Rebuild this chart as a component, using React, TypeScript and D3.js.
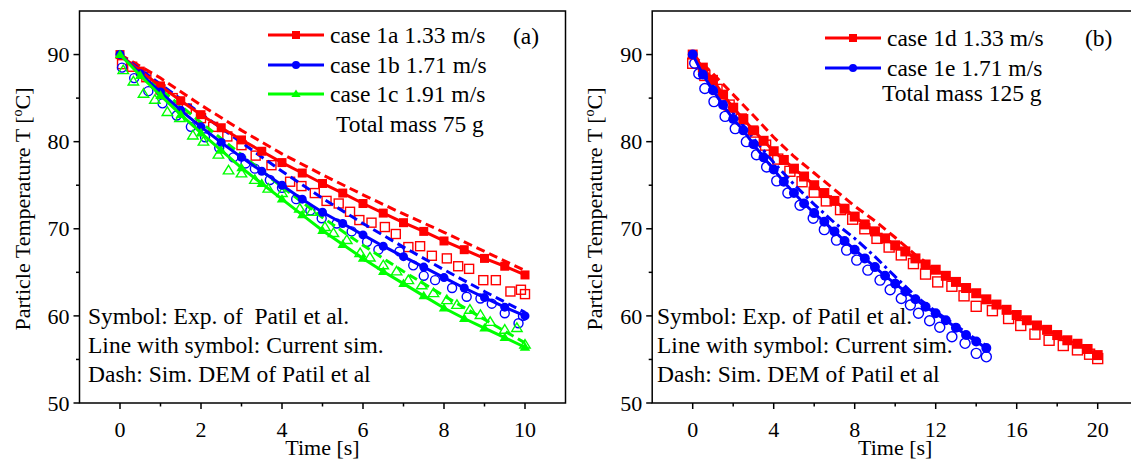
import React from 'react';
import * as d3 from 'd3';

// ---------------- DATA ----------------
// Panel (a): current simulation (line with symbol), t step 0.5 s
const simTimeA = [0, 0.5, 1, 1.5, 2, 2.5, 3, 3.5, 4, 4.5, 5, 5.5, 6, 6.5, 7, 7.5, 8, 8.5, 9, 9.5, 10];
const sim1a = [90, 88.1, 86.4, 84.7, 83.1, 81.6, 80.2, 78.9, 77.6, 76.4, 75.2, 74.1, 72.9, 71.8, 70.7, 69.7, 68.6, 67.6, 66.6, 65.7, 64.7];
const sim1b = [90, 87.8, 85.7, 83.6, 81.7, 79.9, 78.2, 76.6, 75.0, 73.4, 71.9, 70.6, 69.3, 68.0, 66.8, 65.6, 64.4, 63.2, 62.1, 61.0, 60.0];
const sim1c = [90, 87.6, 85.3, 83.1, 81.0, 79.0, 77.0, 75.2, 73.4, 71.6, 69.8, 68.2, 66.6, 65.1, 63.7, 62.3, 60.9, 59.7, 58.6, 57.5, 56.4];
// Panel (a): DEM of Patil et al. (dash)
const demTimeA = [0, 1, 2, 3, 4, 5, 6, 7, 8, 9, 10];
const dem1a = [90, 87.3, 84.2, 81.3, 78.6, 76.2, 73.9, 71.7, 69.6, 67.4, 65.2];
const dem1b = [90, 86.6, 83.2, 79.9, 76.6, 73.5, 70.6, 67.9, 65.3, 62.8, 60.4];
const dem1c = [90, 86.0, 82.2, 78.5, 74.8, 71.3, 68.1, 65.1, 62.3, 59.6, 56.9];
// Panel (a): experiments of Patil et al. (open symbols) [t, T]
const exp1a: [number, number][] = [[0.05, 88.9], [0.3, 88.6], [0.65, 87.4], [1.0, 86.0], [1.3, 85.0], [1.65, 83.8], [2.0, 82.7], [2.3, 81.7], [2.65, 80.6], [3.0, 79.6], [3.35, 78.4], [3.74, 77.3], [4.2, 75.4], [4.48, 74.9], [4.81, 74.1], [5.1, 73.2], [5.4, 72.9], [5.68, 71.95], [5.91, 71.0], [6.21, 70.7], [6.54, 70.2], [6.81, 69.4], [7.12, 67.9], [7.41, 68.0], [7.7, 66.9], [8.07, 66.6], [8.35, 65.7], [8.62, 65.4], [8.97, 64.1], [9.28, 64.1], [9.64, 62.8], [9.9, 63.0], [10.0, 62.5]];
const exp1b: [number, number][] = [[0.05, 88.5], [0.35, 87.3], [0.7, 85.8], [1.05, 84.4], [1.4, 83.0], [1.75, 81.7], [2.1, 80.5], [2.45, 79.3], [2.8, 78.2], [3.1, 77.5], [3.33, 76.9], [3.7, 75.6], [4.0, 74.7], [4.35, 73.4], [4.7, 72.1], [4.98, 71.2], [5.35, 70.6], [5.72, 69.7], [6.1, 68.5], [6.38, 67.6], [6.9, 67.4], [7.24, 65.8], [7.5, 64.6], [7.78, 64.1], [8.2, 63.2], [8.56, 62.2], [8.9, 62.0], [9.18, 61.4], [9.5, 60.3], [9.84, 59.15], [9.95, 60.0]];
const exp1c: [number, number][] = [[0.08, 88.2], [0.33, 86.9], [0.58, 85.5], [0.86, 84.8], [1.17, 83.4], [1.48, 82.7], [1.8, 80.7], [2.06, 80.0], [2.43, 78.5], [2.68, 76.7], [3.0, 76.35], [3.33, 75.6], [3.66, 74.6], [4.0, 74.1], [4.44, 72.3], [4.73, 71.95], [5.06, 70.2], [5.27, 69.5], [5.6, 68.7], [5.93, 67.2], [6.17, 66.7], [6.5, 65.8], [6.83, 65.1], [7.12, 64.1], [7.45, 63.5], [7.74, 62.6], [8.07, 61.8], [8.32, 61.25], [8.64, 60.7], [8.9, 60.1], [9.14, 59.3], [9.5, 58.4], [9.8, 58.6], [10.0, 56.7]];

// Panel (b): current simulation
const simTime1d = [0, 0.5, 1, 1.5, 2, 2.5, 3, 3.5, 4, 4.5, 5, 5.5, 6, 6.5, 7, 7.5, 8, 8.5, 9, 9.5, 10, 10.5, 11, 11.5, 12, 12.5, 13, 13.5, 14, 14.5, 15, 15.5, 16, 16.5, 17, 17.5, 18, 18.5, 19, 19.5, 20];
const sim1d = [90, 88.5, 87.1, 85.4, 83.9, 82.6, 81.3, 80.1, 78.9, 77.9, 76.9, 76.0, 75.0, 74.1, 73.2, 72.3, 71.4, 70.5, 69.7, 68.9, 68.1, 67.4, 66.6, 65.9, 65.3, 64.6, 63.9, 63.2, 62.6, 61.9, 61.3, 60.7, 60.1, 59.5, 58.9, 58.4, 57.8, 57.2, 56.8, 56.2, 55.5];
const simTime1e = [0, 0.5, 1, 1.5, 2, 2.5, 3, 3.5, 4, 4.5, 5, 5.5, 6, 6.5, 7, 7.5, 8, 8.5, 9, 9.5, 10, 10.5, 11, 11.5, 12, 12.5, 13, 13.5, 14, 14.5];
const sim1e = [90, 87.7, 85.9, 84.2, 82.6, 81.3, 79.7, 78.2, 76.8, 75.4, 74.1, 72.9, 71.8, 70.8, 69.7, 68.6, 67.6, 66.6, 65.6, 64.6, 63.7, 62.8, 61.9, 61.05, 60.3, 59.5, 58.65, 57.8, 57.05, 56.3];
// Panel (b): DEM of Patil et al.
const demTime1d = [0, 1, 2, 3, 4, 5, 6, 7, 8, 9, 10, 11, 12];
const dem1d = [90, 87.8, 85.4, 83.0, 80.5, 78.3, 76.4, 74.5, 72.6, 70.9, 69.0, 67.0, 65.4];
const demTime1e = [0, 1, 2, 3, 4, 5, 6, 7, 8, 9, 10, 11, 12, 13, 14, 14.5];
const dem1e = [90, 86.5, 83.3, 80.4, 77.6, 75.1, 72.8, 70.7, 68.9, 66.8, 64.5, 62.3, 60.5, 58.9, 57.3, 56.6];
// Panel (b): experiments
const exp1d: [number, number][] = [[0, 89.0], [0.6, 87.6], [1.2, 86.0], [1.8, 84.2], [2.4, 82.6], [3.0, 81.1], [3.6, 79.6], [4.2, 78.0], [4.8, 76.6], [5.4, 75.4], [6.0, 74.2], [6.6, 73.2], [7.3, 72.2], [7.9, 71.1], [8.5, 70.0], [9.1, 68.9], [9.7, 67.9], [10.3, 67.0], [10.9, 66.0], [11.5, 64.8], [12.1, 63.9], [12.8, 63.4], [13.4, 62.3], [14.0, 61.1], [14.8, 60.6], [15.6, 59.7], [16.2, 58.9], [16.9, 57.9], [17.6, 57.2], [18.3, 56.6], [19.0, 56.1], [19.6, 55.6], [20.0, 55.1]];
const exp1e: [number, number][] = [[0.1, 89.0], [0.3, 87.8], [0.6, 86.1], [1.05, 84.6], [1.6, 82.9], [2.1, 81.5], [2.65, 80.0], [3.15, 78.5], [3.65, 77.1], [4.15, 75.5], [4.7, 74.1], [5.3, 72.7], [5.95, 71.2], [6.5, 69.9], [7.1, 68.7], [7.6, 67.55], [8.1, 66.4], [8.65, 65.25], [9.25, 64.1], [9.75, 63.0], [10.3, 62.0], [10.75, 61.25], [11.15, 60.3], [11.7, 59.45], [12.2, 58.7], [12.8, 57.6], [13.45, 56.85], [14.0, 55.7], [14.5, 55.3]];

const yTicks = [50, 60, 70, 80, 90];
const yMinor = [55, 65, 75, 85];
const xTicksA = [0, 2, 4, 6, 8, 10];
const xMinorA = [1, 3, 5, 7, 9];
const xTicksB = [0, 4, 8, 12, 16, 20];
const xMinorB = [2, 6, 10, 14, 18];

const legendA = ['case 1a 1.33 m/s', 'case 1b 1.71 m/s', 'case 1c 1.91 m/s'];
const legendB = ['case 1d 1.33 m/s', 'case 1e 1.71 m/s'];
const notesA = ['Symbol: Exp. of \u00a0Patil et al.', 'Line with symbol: Current sim.', 'Dash: Sim. DEM of Patil et al'];
const notesB = ['Symbol: Exp. of Patil et al.', 'Line with symbol: Current sim.', 'Dash: Sim. DEM of Patil et al'];

const RED = '#ff0000';
const BLUE = '#0000ff';
const GREEN = '#00ff00';
const FONT = "'Liberation Serif', 'Times New Roman', serif";

type Shape = 'square' | 'circle' | 'triangle';

function Marker({ shape, x, y, size, color, filled }: { shape: Shape; x: number; y: number; size: number; color: string; filled: boolean }) {
  const fill = filled ? color : 'none';
  const sw = filled ? 0 : 1.4;
  if (shape === 'square') {
    return <rect x={x - size / 2} y={y - size / 2} width={size} height={size} fill={fill} stroke={color} strokeWidth={sw} />;
  }
  if (shape === 'circle') {
    return <circle cx={x} cy={y} r={size / 2} fill={fill} stroke={color} strokeWidth={sw} />;
  }
  const h = size * 0.95;
  const w = size * 0.58;
  const d = `M${x},${y - h * 0.6} L${x + w},${y + h * 0.4} L${x - w},${y + h * 0.4} Z`;
  return <path d={d} fill={fill} stroke={color} strokeWidth={sw} />;
}

interface SeriesDef {
  color: string;
  shape: Shape;
  simT: number[];
  simV: number[];
  demT: number[];
  demV: number[];
  dash: string;
  exp: [number, number][];
}

interface PanelDef {
  x0: number; // pixel of left frame
  pxPerUnit: number;
  xDomain: [number, number];
  xTicks: number[];
  xMinor: number[];
  series: SeriesDef[];
  legend: string[];
  legendX: number;
  legendY: number[];
  massText: string;
  massX: number;
  massY: number;
  tag: string;
  tagX: number;
  tagY: number;
  notes: string[];
  notesX: number;
  ylabelX: number;
  markerSize: number;
}

const TOP = 11;
const BOTTOM = 403;

function Panel({ p }: { p: PanelDef }) {
  const width = (p.xDomain[1] - p.xDomain[0]) * p.pxPerUnit;
  const x = d3.scaleLinear().domain(p.xDomain).range([p.x0, p.x0 + width]);
  const y = d3.scaleLinear().domain([50, 95]).range([BOTTOM, TOP]);
  const line = d3.line<[number, number]>().x(d => x(d[0])).y(d => y(d[1]));
  const zip = (t: number[], v: number[]) => t.map((tt, i) => [tt, v[i]] as [number, number]);
  const ms = p.markerSize;

  return (
    <g>
      {/* experiments (open symbols) */}
      {p.series.map((s, si) => (
        <g key={'e' + si}>
          {s.exp.map((d, i) => (
            <Marker key={i} shape={s.shape} x={x(d[0])} y={y(d[1])} size={ms} color={s.color} filled={false} />
          ))}
        </g>
      ))}
      {/* DEM dashed */}
      {p.series.map((s, si) => (
        <path key={'d' + si} d={line(zip(s.demT, s.demV)) || ''} fill="none" stroke={s.color} strokeWidth={3} strokeDasharray={s.dash} />
      ))}
      {/* current sim */}
      {p.series.map((s, si) => {
        const pts = zip(s.simT, s.simV);
        return (
          <g key={'s' + si}>
            <path d={line(pts) || ''} fill="none" stroke={s.color} strokeWidth={3} />
            {pts.map((d, i) => (
              <Marker key={i} shape={s.shape} x={x(d[0])} y={y(d[1])} size={ms} color={s.color} filled={true} />
            ))}
          </g>
        );
      })}
      {/* frame */}
      <rect x={p.x0} y={TOP} width={width} height={BOTTOM - TOP} fill="none" stroke="#000" strokeWidth={1.5} />
      {/* y ticks */}
      {yTicks.map(v => (
        <g key={'yt' + v}>
          <line x1={p.x0 - 6} x2={p.x0} y1={y(v)} y2={y(v)} stroke="#000" strokeWidth={1.5} />
          <text x={p.x0 - 10} y={y(v)} dy="0.35em" textAnchor="end" fontSize={22} fontFamily={FONT}>{v}</text>
        </g>
      ))}
      {yMinor.map(v => (
        <line key={'ym' + v} x1={p.x0 - 3.5} x2={p.x0} y1={y(v)} y2={y(v)} stroke="#000" strokeWidth={1.5} />
      ))}
      {/* x ticks */}
      {p.xTicks.map(v => (
        <g key={'xt' + v}>
          <line x1={x(v)} x2={x(v)} y1={BOTTOM} y2={BOTTOM + 6} stroke="#000" strokeWidth={1.5} />
          <text x={x(v)} y={437} textAnchor="middle" fontSize={22} fontFamily={FONT}>{v}</text>
        </g>
      ))}
      {p.xMinor.map(v => (
        <line key={'xm' + v} x1={x(v)} x2={x(v)} y1={BOTTOM} y2={BOTTOM + 3.5} stroke="#000" strokeWidth={1.5} />
      ))}
      {/* axis labels */}
      <text x={x((p.xTicks[0] + p.xTicks[p.xTicks.length - 1]) / 2)} y={455} textAnchor="middle" fontSize={22} fontFamily={FONT}>Time [s]</text>
      <text transform={`translate(${p.ylabelX},${(TOP + BOTTOM) / 2 + 2}) rotate(-90)`} textAnchor="middle" fontSize={22} fontFamily={FONT}>
        Particle Temperature T [<tspan fontSize={14} dy={-8}>o</tspan><tspan dy={8}>C]</tspan>
      </text>
      {/* legend */}
      {p.legend.map((txt, i) => {
        const s = p.series[i];
        const ly = p.legendY[i];
        return (
          <g key={'lg' + i}>
            <line x1={p.legendX} x2={p.legendX + 56} y1={ly} y2={ly} stroke={s.color} strokeWidth={3} />
            <Marker shape={s.shape} x={p.legendX + 28} y={ly} size={8} color={s.color} filled={true} />
            <text x={p.legendX + 62} y={ly} dy="0.33em" fontSize={23.5} fontFamily={FONT}>{txt}</text>
          </g>
        );
      })}
      <text x={p.massX} y={p.massY} fontSize={23.5} fontFamily={FONT}>{p.massText}</text>
      <text x={p.tagX} y={p.tagY} fontSize={23.5} fontFamily={FONT}>{p.tag}</text>
      {/* notes */}
      {p.notes.map((n, i) => (
        <text key={'n' + i} x={p.notesX} y={324 + i * 29} fontSize={23.5} fontFamily={FONT} style={{ whiteSpace: 'pre' }}>{n}</text>
      ))}
    </g>
  );
}

const panelA: PanelDef = {
  x0: 79.5,
  pxPerUnit: 40.5,
  xDomain: [-1, 11],
  xTicks: xTicksA,
  xMinor: xMinorA,
  series: [
    { color: RED, shape: 'square', simT: simTimeA, simV: sim1a, demT: demTimeA, demV: dem1a, dash: '9,5', exp: exp1a },
    { color: BLUE, shape: 'circle', simT: simTimeA, simV: sim1b, demT: demTimeA, demV: dem1b, dash: '9,5', exp: exp1b },
    { color: GREEN, shape: 'triangle', simT: simTimeA, simV: sim1c, demT: demTimeA, demV: dem1c, dash: '9,5', exp: exp1c },
  ],
  legend: legendA,
  legendX: 268,
  legendY: [35, 65, 94],
  massText: 'Total mass 75 g',
  massX: 336,
  massY: 132,
  tag: '(a)',
  tagX: 513,
  tagY: 44,
  notes: notesA,
  notesX: 88,
  ylabelX: 30,
  markerSize: 9,
};

const panelB: PanelDef = {
  x0: 652.2,
  pxPerUnit: 20.25,
  xDomain: [-2, 22],
  xTicks: xTicksB,
  xMinor: xMinorB,
  series: [
    { color: RED, shape: 'square', simT: simTime1d, simV: sim1d, demT: demTime1d, demV: dem1d, dash: '9,5', exp: exp1d },
    { color: BLUE, shape: 'circle', simT: simTime1e, simV: sim1e, demT: demTime1e, demV: dem1e, dash: '10,4,3,4', exp: exp1e },
  ],
  legend: legendB,
  legendX: 825,
  legendY: [38, 68],
  massText: 'Total mass 125 g',
  massX: 882,
  massY: 101,
  tag: '(b)',
  tagX: 1085,
  tagY: 46,
  notes: notesB,
  notesX: 657,
  ylabelX: 602,
  markerSize: 10,
};

export default function App() {
  return (
    <svg width={1131} height={460} style={{ position: 'absolute', left: 0, top: 0, background: '#fff' }}>
      <rect x={0} y={0} width={1131} height={460} fill="#fff" />
      <Panel p={panelA} />
      <Panel p={panelB} />
    </svg>
  );
}
